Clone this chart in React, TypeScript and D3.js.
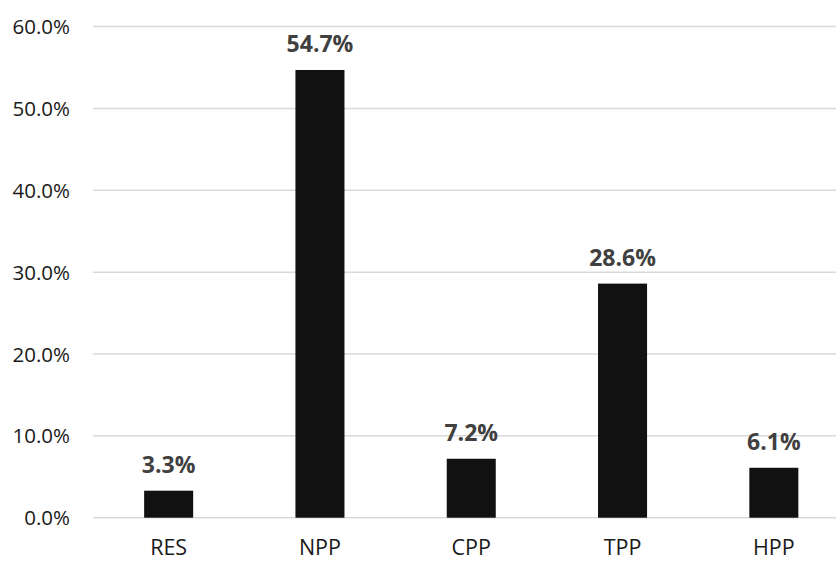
import React from "react";
import * as d3 from "d3";

const categories = ["RES", "NPP", "CPP", "TPP", "HPP"];
const shares = [3.3, 54.7, 7.2, 28.6, 6.1];
const yTicks = [0, 10, 20, 30, 40, 50, 60];

const W = 836;
const H = 562;
const FONT = "'Open Sans', 'Noto Sans', sans-serif";

export default function App() {
  const x = d3
    .scaleBand<string>()
    .domain(categories)
    .range([93, 849.5])
    .paddingInner(0.676)
    .paddingOuter(0.338);
  const y = d3.scaleLinear().domain([0, 60]).range([517.7, 26.6]);
  const fmt = (v: number) => `${v.toFixed(1)}%`;

  return (
    <svg
      width={W}
      height={H}
      style={{ position: "absolute", left: 0, top: 0, background: "#fff" }}
      fontFamily={FONT}
    >
      <defs>
        <clipPath id="plotClip">
          <rect x={0} y={0} width={W} height={H} />
        </clipPath>
      </defs>
      <g clipPath="url(#plotClip)">
        {yTicks.map((t) => (
          <line
            key={t}
            x1={93}
            x2={849.5}
            y1={y(t)}
            y2={y(t)}
            stroke="#d9d9d9"
            strokeWidth={1.5}
          />
        ))}
      </g>
      {yTicks.map((t) => (
        <text
          key={t}
          x={70}
          y={y(t) + 7.6}
          textAnchor="end"
          fontSize={20.5}
          fill="#1a1a1a"
        >
          {fmt(t)}
        </text>
      ))}
      {categories.map((c, i) => {
        const bx = x(c) as number;
        const bw = x.bandwidth();
        return (
          <g key={c}>
            <rect
              x={bx}
              y={y(shares[i])}
              width={bw}
              height={y(0) - y(shares[i])}
              fill="#111111"
            />
            <text
              x={bx + bw / 2}
              y={y(shares[i]) - 17.8}
              textAnchor="middle"
              fontSize={23}
              fontWeight={700}
              fill="#404040"
            >
              {fmt(shares[i])}
            </text>
            <text
              x={bx + bw / 2}
              y={555}
              textAnchor="middle"
              fontSize={21.5}
              fill="#1a1a1a"
            >
              {c}
            </text>
          </g>
        );
      })}
    </svg>
  );
}
